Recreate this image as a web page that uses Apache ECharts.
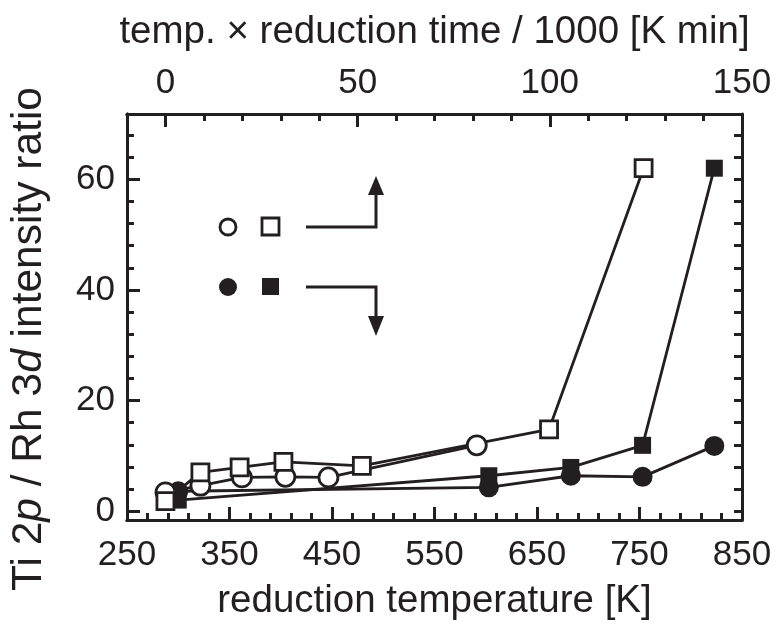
<!DOCTYPE html>
<html>
<head>
<meta charset="utf-8">
<script src="https://cdn.jsdelivr.net/npm/echarts@6/dist/echarts.min.js"></script>
<style>html,body{margin:0;padding:0;background:#fff}#c{width:778px;height:626px}</style>
</head>
<body>
<div id="c"></div>
<script>
// ---- data ----
// open symbols: plotted against top axis (temp x reduction time / 1000 [K min])
var openCircleX = [0, 9.1, 19.9, 31.2, 42.4, 81];
var openCircleY = [3.4, 4.6, 6.1, 6.2, 6.1, 11.9];
var openSquareX = [0, 9.1, 19.3, 30.7, 51.1, 99.8, 124.4];
var openSquareY = [1.8, 7.0, 7.9, 8.9, 8.2, 14.8, 62];
// filled symbols: plotted against bottom axis (reduction temperature [K])
var filledCircleX = [300, 603, 683, 753, 823];
var filledCircleY = [3.6, 4.3, 6.4, 6.2, 11.8];
var filledSquareX = [300, 603, 683, 753, 823];
var filledSquareY = [2.0, 6.4, 7.9, 11.9, 62];
// tick labels
var bottomTicks = [250, 350, 450, 550, 650, 750, 850];
var bottomMinor = [270, 290, 310, 330, 370, 390, 410, 430, 470, 490, 510, 530, 570, 590, 610, 630, 670, 690, 710, 730, 770, 790, 810, 830];
var topTicks = [0, 50, 100, 150];
var topMinor = [10, 20, 30, 40, 60, 70, 80, 90, 110, 120, 130, 140];
var yTicks = [0, 20, 40, 60];
var yMinor = [4, 8, 12, 16, 24, 28, 32, 36, 44, 48, 52, 56, 64, 68];
var yAll = [0, 4, 8, 12, 16, 20, 24, 28, 32, 36, 40, 44, 48, 52, 56, 60, 64, 68];

function zip(a, b) { return a.map(function (v, i) { return [v, b[i]]; }); }

var INK = '#231f20';
var FONT = 'Liberation Sans';
var FS = 35;      // tick labels
var FT = 38.5;    // horizontal axis titles
var FY = 42.5;    // y axis title
var lineAx = { show: true, onZero: false, lineStyle: { color: INK, width: 3 } };

var chart = echarts.init(document.getElementById('c'), null, { renderer: 'canvas' });
var grid = { left: 126, right: 36, top: 114, bottom: 103 };

function xAx(pos, min, max, ticks, len, labels, margin, extra) {
  var o = {
    type: 'value', position: pos, min: min, max: max, gridIndex: 0,
    axisLine: lineAx,
    splitLine: { show: false },
    axisTick: { show: true, inside: true, length: len, customValues: ticks, lineStyle: { color: INK, width: 3 } },
    axisLabel: labels ? { show: true, customValues: labels, color: INK, fontFamily: FONT, fontSize: FS, margin: margin } : { show: false }
  };
  for (var k in extra) o[k] = extra[k];
  return o;
}

var option = {
  animation: false,
  backgroundColor: '#fff',
  grid: grid,
  xAxis: [
    xAx('bottom', 250, 850, bottomTicks, 13, bottomTicks, 18, {
      name: 'reduction temperature [K]', nameLocation: 'middle', nameGap: 62,
      nameTextStyle: { color: INK, fontFamily: FONT, fontSize: FT }
    }),
    xAx('bottom', 250, 850, bottomMinor, 7, null, 0, {}),
    xAx('top', -10, 150, topTicks, 13, topTicks, 13, {
      name: 'temp. \u00d7 reduction time / 1000 [K min]', nameLocation: 'middle', nameGap: 62,
      nameTextStyle: { color: INK, fontFamily: FONT, fontSize: FT }
    }),
    xAx('top', -10, 150, topMinor, 7, null, 0, {})
  ],
  yAxis: [
    {
      type: 'value', position: 'left', min: -1.6, max: 71.8,
      axisLine: lineAx, splitLine: { show: false },
      axisTick: { show: true, inside: true, length: 13, customValues: yTicks, lineStyle: { color: INK, width: 3 } },
      axisLabel: { show: true, customValues: yTicks, color: INK, fontFamily: FONT, fontSize: FS, margin: 12 },
      name: 'Ti 2{i|p} / Rh 3{i|d} intensity ratio', nameLocation: 'middle', nameGap: 76,
      nameTextStyle: { color: INK, fontFamily: FONT, fontSize: FY, padding: [0, 44, 0, 0],
        rich: { i: { fontStyle: 'italic', fontFamily: FONT, fontSize: FY, color: INK } } }
    },
    {
      type: 'value', position: 'left', min: -1.6, max: 71.8,
      axisLine: lineAx, splitLine: { show: false },
      axisTick: { show: true, inside: true, length: 7, customValues: yMinor, lineStyle: { color: INK, width: 3 } },
      axisLabel: { show: false }
    },
    {
      type: 'value', position: 'right', min: -1.6, max: 71.8,
      axisLine: lineAx, splitLine: { show: false },
      axisTick: { show: true, inside: true, length: 8, customValues: yAll, lineStyle: { color: INK, width: 3 } },
      axisLabel: { show: false }
    }
  ],
  series: [
    {
      type: 'line', xAxisIndex: 0, yAxisIndex: 0, data: zip(filledCircleX, filledCircleY),
      symbol: 'circle', symbolSize: 20,
      itemStyle: { color: INK, borderColor: INK, borderWidth: 0 },
      lineStyle: { color: INK, width: 2.8 }, z: 3
    },
    {
      type: 'line', xAxisIndex: 0, yAxisIndex: 0, data: zip(filledSquareX, filledSquareY),
      symbol: 'rect', symbolSize: 17,
      itemStyle: { color: INK, borderColor: INK, borderWidth: 0 },
      lineStyle: { color: INK, width: 2.8 }, z: 3
    },
    {
      type: 'line', xAxisIndex: 2, yAxisIndex: 0, data: zip(openCircleX, openCircleY),
      symbol: 'circle', symbolSize: 19,
      itemStyle: { color: '#fff', borderColor: INK, borderWidth: 2.8 },
      lineStyle: { color: INK, width: 2.8 }, z: 4
    },
    {
      type: 'line', xAxisIndex: 2, yAxisIndex: 0, data: zip(openSquareX, openSquareY),
      symbol: 'rect', symbolSize: 17,
      itemStyle: { color: '#fff', borderColor: INK, borderWidth: 2.8 },
      lineStyle: { color: INK, width: 2.8 }, z: 4
    }
  ],
  graphic: [
    { type: 'circle', shape: { cx: 228, cy: 227, r: 8 }, style: { fill: '#fff', stroke: INK, lineWidth: 2.8 } },
    { type: 'rect', shape: { x: 262, y: 218, width: 17, height: 17 }, style: { fill: '#fff', stroke: INK, lineWidth: 2.8 } },
    { type: 'polyline', shape: { points: [[306, 227], [376, 227], [376, 192]] }, style: { stroke: INK, lineWidth: 3, fill: null } },
    { type: 'polygon', shape: { points: [[368, 195], [384, 195], [376, 176]] }, style: { fill: INK } },
    { type: 'circle', shape: { cx: 228, cy: 287, r: 9 }, style: { fill: INK } },
    { type: 'rect', shape: { x: 262, y: 278, width: 17, height: 17 }, style: { fill: INK } },
    { type: 'polyline', shape: { points: [[306, 287], [376, 287], [376, 318]] }, style: { stroke: INK, lineWidth: 3, fill: null } },
    { type: 'polygon', shape: { points: [[368, 316], [384, 316], [376, 336]] }, style: { fill: INK } }
  ]
};
chart.setOption(option);
</script>
</body>
</html>
